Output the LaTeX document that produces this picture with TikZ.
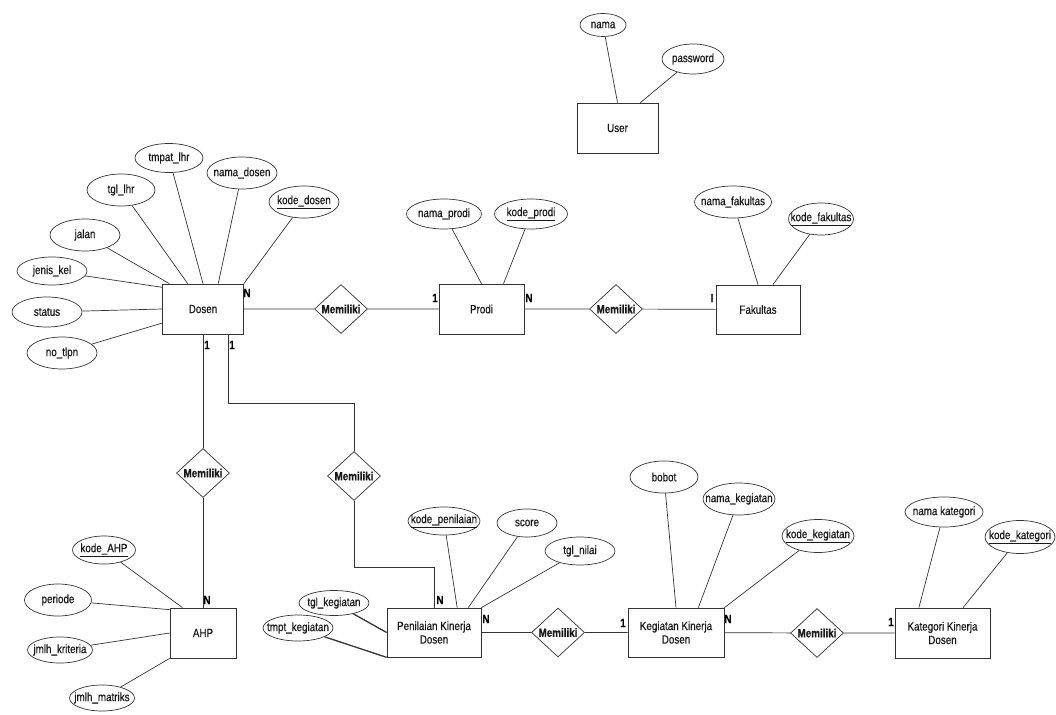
\documentclass[tikz,border=0pt]{standalone}
\usepackage{fontspec}
\setmainfont{Liberation Sans}[FakeStretch=0.82, FakeBold=0.6]
\usetikzlibrary{shapes.geometric}
\begin{document}
\begin{tikzpicture}[x=1pt,y=-1pt,
  wire/.style={draw=black!80, line width=0.7pt},
  txt/.style={font=\fontsize{12}{13.5}\selectfont, text=black!90},
  entity/.style={wire, rectangle, minimum width=82pt, minimum height=50pt, inner sep=1pt, align=center, txt},
  attr/.style={wire, ellipse, minimum width=70pt, minimum height=30pt, inner sep=0pt, label={[txt, inner sep=0pt]center:#1}},
  keyattr/.style={attr={\underline{#1}}},
  rel/.style={wire, diamond, minimum width=53pt, minimum height=49pt, inner sep=0pt,
    label={[txt, font=\bfseries\fontsize{12}{13}\selectfont, inner sep=0pt]center:Memiliki}},
  card/.style={font=\bfseries\fontsize{12}{13}\selectfont, inner sep=0pt},
  conn/.style={wire},
  thickconn/.style={wire, line width=1.3pt}
]
\useasboundingbox (0,0) rectangle (1056,714);

% ---------- User ----------
\node[entity, minimum width=81pt] (user) at (617.5,128) {User};
\node[attr=nama, minimum width=46pt, minimum height=23pt] (unama) at (603,25) {};
\node[attr=password, minimum width=62pt, minimum height=30pt] (upass) at (693,59) {};
\draw[conn] (unama) -- (user.north);
\draw[conn] (upass) -- (user.48);

% ---------- Dosen ----------
\node[entity, minimum width=81pt] (dosen) at (203,309) {Dosen};
\node[keyattr=kode\_dosen, minimum height=32pt] (dkode) at (304,202) {};
\node[attr=nama\_dosen, minimum height=32pt] (dnama) at (242,173) {};
\node[attr=tmpat\_lhr, minimum width=68pt, minimum height=29pt] (dtmpat) at (169,158) {};
\node[attr=tgl\_lhr, minimum width=68pt, minimum height=32pt] (dtgl) at (121,190) {};
\node[attr=jalan, minimum height=32pt] (djalan) at (85,235) {};
\node[attr=jenis\_kel, minimum height=28pt] (djenis) at (52,271) {};
\node[attr=status] (dstatus) at (47,312) {};
\node[attr=no\_tlpn, minimum height=32pt] (dtlpn) at (62,353) {};
\draw[conn] (dkode) -- (dosen.north east);
\draw[conn] (dnama) -- (dosen.59);
\draw[conn] (dtmpat) -- (dosen.north);
\draw[conn] (dtgl) -- (dosen.121);
\draw[conn] (djalan) -- (dosen.143);
\draw[conn] (djenis) -- (dosen.152);
\draw[conn] (dstatus) -- (dosen.west);
\draw[conn] (dtlpn) -- (dosen.199);

% ---------- Prodi ----------
\node[entity, minimum width=85pt] (prodi) at (481.5,309) {Prodi};
\node[attr=nama\_prodi, minimum width=75pt] (pnama) at (444,214) {};
\node[keyattr=kode\_prodi, minimum width=73pt] (pkode) at (531,214) {};
\draw[conn] (pnama) -- (prodi.north);
\draw[conn] (pkode) -- (prodi.49);

% ---------- Fakultas ----------
\node[entity, minimum width=84pt, minimum height=49pt] (fak) at (758,309.5) {Fakultas};
\node[attr=nama\_fakultas, minimum width=77pt, minimum height=32pt] (fnama) at (733,202) {};
\node[keyattr=kode\_fakultas, minimum width=65pt, minimum height=32pt] (fkode) at (821,219) {};
\draw[conn] (fnama) -- (fak.north);
\draw[conn] (fkode) -- (fak.59);

% ---------- relationships of the upper row ----------
\node[rel] (r1) at (341,309) {};
\node[rel] (r2) at (616,309) {};
\draw[conn] (dosen) -- (r1) -- (prodi) -- (r2) -- (fak);

% ---------- AHP ----------
\node[entity, minimum width=66pt] (ahp) at (203,633) {AHP};
\node[keyattr=kode\_AHP, minimum width=63pt, minimum height=28pt] (akode) at (104,550) {};
\node[attr=periode, minimum width=67pt, minimum height=32pt] (aper) at (58,600) {};
\node[attr=jmlh\_kriteria, minimum width=65pt, minimum height=26pt] (akrit) at (60,650) {};
\node[attr=jmlh\_matriks, minimum width=65pt, minimum height=26pt] (amat) at (102,698) {};
\draw[conn] (akode) -- (ahp.129);
\draw[conn] (aper) -- (ahp.145);
\draw[conn] (akrit) -- (ahp.west);
\draw[conn] (amat) -- (ahp.south west);

\node[rel] (r3) at (203,473) {};
\draw[conn] (dosen) -- (r3) -- (ahp);

% ---------- Penilaian Kinerja Dosen ----------
\node[entity, minimum width=94pt, minimum height=49pt] (nilai) at (434,632.5) {Penilaian Kinerja\\Dosen};
\node[keyattr=kode\_penilaian, minimum width=72pt, minimum height=28pt] (nkode) at (444,521) {};
\node[attr=score, minimum width=60pt, minimum height=28pt] (nscore) at (527,523) {};
\node[attr=tgl\_nilai, minimum height=28pt] (ntgl) at (580,551) {};
\node[attr=tgl\_kegiatan, minimum height=25pt] (ntglk) at (334,603) {};
\node[attr=tmpt\_kegiatan, minimum height=26pt] (ntmpt) at (298,628) {};
\draw[conn] (nkode) -- (nilai.47);
\draw[conn] (nscore) -- (nilai.36);
\draw[conn] (ntgl) -- (nilai.north east);
\draw[thickconn] (ntglk) -- (nilai.west);
\draw[thickconn] (ntmpt) -- (nilai.south west);

\node[rel] (r4) at (354,476) {};
\draw[conn] (dosen.-45) -- ++(0,69) -| (r4.north);
\draw[conn] (r4.south) -- ++(0,66.5) -| (nilai.north);

% ---------- Kegiatan Kinerja Dosen ----------
\node[entity, minimum width=96pt, minimum height=49pt] (keg) at (676,632.5) {Kegiatan Kinerja\\Dosen};
\node[attr=bobot, minimum width=68pt, minimum height=32pt] (kbobot) at (664,477) {};
\node[attr=nama\_kegiatan, minimum width=72pt, minimum height=32pt] (knama) at (739,499) {};
\node[keyattr=kode\_kegiatan, minimum width=72pt, minimum height=33pt] (kkode) at (818,536) {};
\draw[conn] (kbobot) -- (keg.north);
\draw[conn] (knama) -- (keg.48);
\draw[conn] (kkode) -- (keg.north east);

% ---------- Kategori Kinerja Dosen ----------
\node[entity, minimum width=95pt] (kat) at (942.5,633) {Kategori Kinerja\\Dosen};
\node[attr=nama\ kategori, minimum width=78pt, minimum height=30pt] (tnama) at (944,512) {};
\node[keyattr=kode\_kategori, minimum width=70pt, minimum height=33pt] (tkode) at (1020,537) {};
\draw[conn] (tnama) -- (kat.133);
\draw[conn] (tkode) -- (kat.51);

% ---------- relationships of the lower row ----------
\node[rel] (r5) at (558,632.5) {};
\node[rel] (r6) at (817,633) {};
\draw[conn] (nilai) -- (r5) -- (keg) -- (r6) -- (kat);

% ---------- cardinalities ----------
\node[card] (c1) at (247,293) {N};
\node[card] (c2) at (207,345) {1};
\node[card] (c3) at (232,345) {1};
\node[card] (c4) at (435,298) {1};
\node[card] (c5) at (529,298) {N};
\node[card] (c6) at (712,298) {I};
\node[card] (c7) at (207,600) {N};
\node[card] (c8) at (440,600) {N};
\node[card] (c9) at (486,619) {N};
\node[card] (c10) at (623,623) {1};
\node[card] (c11) at (728,619) {N};
\node[card] (c12) at (891,622) {1};
\end{tikzpicture}
\end{document}
